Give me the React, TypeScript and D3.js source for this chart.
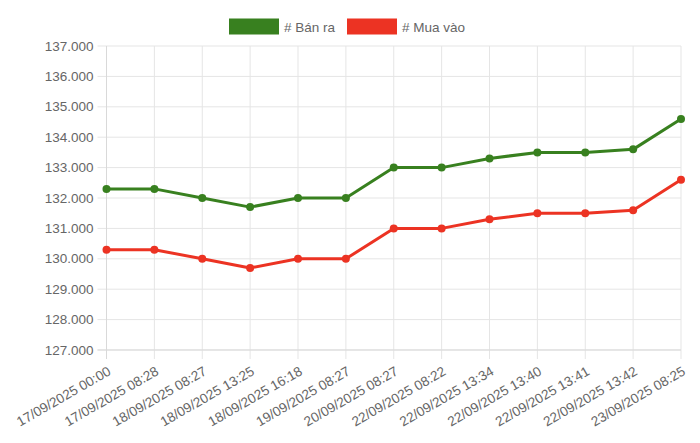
import * as d3 from 'd3';

const labels = [
  '17/09/2025 00:00',
  '17/09/2025 08:28',
  '18/09/2025 08:27',
  '18/09/2025 13:25',
  '18/09/2025 16:18',
  '19/09/2025 08:27',
  '20/09/2025 08:27',
  '22/09/2025 08:22',
  '22/09/2025 13:34',
  '22/09/2025 13:40',
  '22/09/2025 13:41',
  '22/09/2025 13:42',
  '23/09/2025 08:25',
];
const banRa = [132300, 132300, 132000, 131700, 132000, 132000, 133000, 133000, 133300, 133500, 133500, 133600, 134600];
const muaVao = [130300, 130300, 130000, 129700, 130000, 130000, 131000, 131000, 131300, 131500, 131500, 131600, 132600];
const yTicks = [127000, 128000, 129000, 130000, 131000, 132000, 133000, 134000, 135000, 136000, 137000];

const series = [
  { name: '# Bán ra', values: banRa, color: '#38801f' },
  { name: '# Mua vào', values: muaVao, color: '#ec3323' },
];

const width = 700;
const height = 443;
const margins = { top: 46, right: 19, bottom: 93, left: 106.5 };
const font = '"Liberation Sans", Arial, Helvetica, sans-serif';
const fmt = (v: number) => d3.format(',.3f')(v / 1000).replace(/,/g, ' ');

const App = () => {
  const xScale = d3
    .scalePoint<number>()
    .domain(labels.map((_, i) => i))
    .range([margins.left, width - margins.right]);
  const yScale = d3
    .scaleLinear()
    .domain([127000, 137000])
    .range([height - margins.bottom, margins.top]);

  const line = d3
    .line<number>()
    .x((_, i) => xScale(i) || 0)
    .y(d => yScale(d));

  const x0 = margins.left;
  const x1 = width - margins.right;
  const y0 = height - margins.bottom;

  return (
    <svg
      width={width}
      height={height}
      viewBox={`0 0 ${width} ${height}`}
      style={{ position: 'absolute', left: 0, top: 0, fontFamily: font }}
    >
      {/* grid */}
      {yTicks.map(t => (
        <line key={t} x1={x0 - 9} x2={x1} y1={yScale(t)} y2={yScale(t)} stroke="#e5e5e5" strokeWidth={1} />
      ))}
      {labels.map((_, i) => (
        <line
          key={i}
          x1={xScale(i)}
          x2={xScale(i)}
          y1={margins.top}
          y2={y0 + 9}
          stroke="#e5e5e5"
          strokeWidth={1}
        />
      ))}
      <line x1={x0} x2={x0} y1={margins.top} y2={y0 + 9} stroke="#d9d9d9" />
      <line x1={x0 - 9} x2={x1} y1={y0} y2={y0} stroke="#d9d9d9" />

      {/* y labels */}
      {yTicks.map(t => (
        <text
          key={t}
          x={x0 - 13}
          y={yScale(t)}
          textAnchor="end"
          dominantBaseline="central"
          fontSize={13.5}
          fill="#666"
        >
          {fmt(t)}
        </text>
      ))}

      {/* x labels */}
      {labels.map((l, i) => (
        <text
          key={l}
          transform={`translate(${(xScale(i) || 0) + 3}, ${y0 + 20}) rotate(-30)`}
          textAnchor="end"
          dominantBaseline="central"
          fontSize={13.6}
          fill="#666"
        >
          {l}
        </text>
      ))}

      {/* lines */}
      {series.map(s => (
        <g key={s.name}>
          <path d={line(s.values) || ''} fill="none" stroke={s.color} strokeWidth={3} strokeLinejoin="round" />
          {s.values.map((v, i) => (
            <circle key={i} cx={xScale(i)} cy={yScale(v)} r={4} fill={s.color} />
          ))}
        </g>
      ))}

      {/* legend */}
      {series.map((s, i) => {
        const lx = i === 0 ? 229 : 347;
        return (
          <g key={s.name}>
            <rect x={lx} y={18.5} width={50} height={16} fill={s.color} />
            <text x={lx + 55} y={27} dominantBaseline="central" fontSize={13.5} fill="#666">
              {s.name}
            </text>
          </g>
        );
      })}
    </svg>
  );
};

export default App;
